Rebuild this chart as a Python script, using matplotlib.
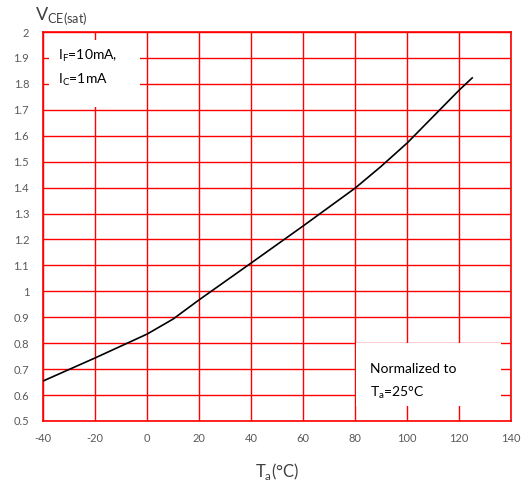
import matplotlib
matplotlib.use("Agg")
import matplotlib.pyplot as plt
from matplotlib.patches import Rectangle

plt.rcParams['font.family'] = ['Lato', 'DejaVu Sans']
plt.rcParams['mathtext.fontset'] = 'custom'
plt.rcParams['mathtext.rm'] = 'Lato'
plt.rcParams['axes.unicode_minus'] = False

# Vce(sat) normalized vs ambient temperature
temp = [-40, -20, 0, 10, 20, 40, 60, 80, 90, 100, 120, 125]
vce = [0.654, 0.743, 0.835, 0.893, 0.967, 1.109, 1.252, 1.398, 1.482, 1.572, 1.776, 1.823]

x_ticks = [-40, -20, 0, 20, 40, 60, 80, 100, 120, 140]
y_ticks = [0.5, 0.6, 0.7, 0.8, 0.9, 1, 1.1, 1.2, 1.3, 1.4, 1.5, 1.6, 1.7, 1.8, 1.9, 2]
y_labels = ["0.5", "0.6", "0.7", "0.8", "0.9", "1", "1.1", "1.2", "1.3", "1.4",
            "1.5", "1.6", "1.7", "1.8", "1.9", "2"]

red = "#ff0000"
gray = "#595959"

fig = plt.figure(figsize=(5.28, 4.91), dpi=100)
ax = fig.add_axes([0.0814, 0.1426, 0.8868, 0.7922])

ax.plot(temp, vce, color="black", lw=1.2, zorder=4)

ax.set_xlim(-40, 140)
ax.set_ylim(0.5, 2)
ax.set_xticks(x_ticks)
ax.set_yticks(y_ticks)
ax.set_yticklabels(y_labels)
ax.tick_params(length=0, labelsize=8, labelcolor=gray)
ax.tick_params(axis="x", pad=9)
ax.tick_params(axis="y", pad=10)
ax.grid(True, color=red, lw=1)
ax.set_axisbelow(True)
for s in ax.spines.values():
    s.set_color(red)
    s.set_linewidth(1.2)

# white label boxes that hide the grid
ax.add_patch(Rectangle((0.013, 0.807), 0.194, 0.172, transform=ax.transAxes,
                       facecolor="white", edgecolor="none", zorder=2))
ax.add_patch(Rectangle((0.669, 0.0386), 0.31, 0.162, transform=ax.transAxes,
                       facecolor="white", edgecolor="none", zorder=2))

ax.text(0.033, 0.938, r"I$_\mathregular{F}$=10mA,", transform=ax.transAxes,
        fontsize=10, va="center", zorder=3)
ax.text(0.033, 0.876, r"I$_\mathregular{C}$=1mA", transform=ax.transAxes,
        fontsize=10, va="center", zorder=3)
ax.text(0.698, 0.134, "Normalized to", transform=ax.transAxes,
        fontsize=10, va="center", zorder=3)
ax.text(0.698, 0.072, r"T$_\mathregular{a}$=25°C", transform=ax.transAxes,
        fontsize=10, va="center", zorder=3)

fig.text(0.066, 0.967, r"V$_\mathregular{CE(sat)}$", fontsize=13, va="center",
         color="#404040")
fig.text(0.525, 0.04, r"T$_\mathregular{a}$(°C)", fontsize=12, ha="center",
         va="center", color="#404040")

fig.savefig("out.png", dpi=100)
